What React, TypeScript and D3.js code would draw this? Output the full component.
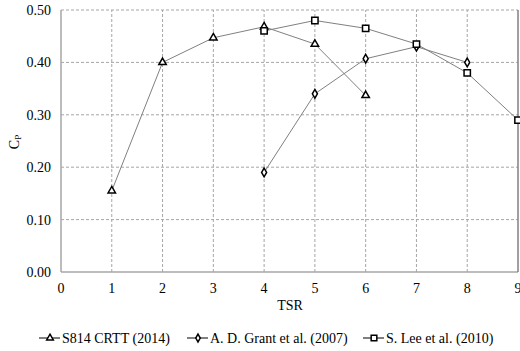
import React from 'react';
import * as d3 from 'd3';

const s814X = [1, 2, 3, 4, 5, 6];
const s814Y = [0.155, 0.4, 0.447, 0.468, 0.435, 0.337];
const grantX = [4, 5, 6, 7, 8];
const grantY = [0.19, 0.34, 0.407, 0.43, 0.4];
const leeX = [4, 5, 6, 7, 8, 9];
const leeY = [0.46, 0.48, 0.465, 0.435, 0.38, 0.29];
const xTicks = [0, 1, 2, 3, 4, 5, 6, 7, 8, 9];
const yTicks = [0, 0.1, 0.2, 0.3, 0.4, 0.5];
const seriesNames = ['S814 CRTT (2014)', 'A. D. Grant et al. (2007)', 'S. Lee et al. (2010)'];

const width = 520;
const height = 351;
const margin = { top: 10, right: 2, bottom: 79, left: 61 };
const font = 'Liberation Serif, Times New Roman, serif';

export default function App() {
  const x = d3.scaleLinear().domain([0, 9]).range([margin.left, width - margin.right]);
  const y = d3.scaleLinear().domain([0, 0.5]).range([height - margin.bottom, margin.top]);
  const line = d3.line<[number, number]>().x(d => x(d[0])).y(d => y(d[1]));

  const series = [
    { xs: s814X, ys: s814Y, sym: d3.symbolTriangle, size: 24 },
    { xs: grantX, ys: grantY, sym: d3.symbolDiamond, size: 22 },
    { xs: leeX, ys: leeY, sym: d3.symbolSquare, size: 40 },
  ];
  const legendX = [39, 187, 363];
  const textStyle = { fontFamily: font, fontSize: '14px' };

  return (
    <svg width={width} height={height} style={{ position: 'absolute', left: 0, top: 0 }}>
      {/* gridlines */}
      {yTicks.slice(1).map(t => (
        <line key={'h' + t} x1={x(0)} x2={x(9)} y1={y(t)} y2={y(t)}
          stroke="#a6a6a6" strokeDasharray="3,2" strokeWidth={1} />
      ))}
      {xTicks.slice(1, 9).map(t => (
        <line key={'v' + t} x1={x(t)} x2={x(t)} y1={y(0)} y2={y(0.5)}
          stroke="#a6a6a6" strokeDasharray="3,2" strokeWidth={1} />
      ))}
      {/* axes */}
      <line x1={x(0)} x2={x(0)} y1={y(0)} y2={y(0.5)} stroke="#a6a6a6" strokeWidth={1.5} />
      <line x1={x(0)} x2={x(9)} y1={y(0)} y2={y(0)} stroke="#a6a6a6" strokeWidth={1.5} />
      <line x1={x(9)} x2={x(9)} y1={y(0)} y2={y(0.5)} stroke="#808080" strokeWidth={1.5} />

      {/* tick labels */}
      {yTicks.map(t => (
        <text key={'yl' + t} x={margin.left - 10} y={y(t) + 5} textAnchor="end" style={textStyle}>
          {d3.format('.2f')(t)}
        </text>
      ))}
      {xTicks.map(t => (
        <text key={'xl' + t} x={x(t)} y={y(0) + 21} textAnchor="middle" style={textStyle}>{t}</text>
      ))}
      <text x={290} y={310} textAnchor="middle" style={textStyle}>TSR</text>
      <text transform="translate(19,142) rotate(-90)" textAnchor="middle" style={textStyle}>
        <tspan>C</tspan>
        <tspan dy={2} style={{ fontSize: '9px' }}>P</tspan>
      </text>

      {/* series lines */}
      {series.map((s, i) => (
        <path key={'l' + i} d={line(s.xs.map((v, j) => [v, s.ys[j]] as [number, number])) || ''}
          fill="none" stroke="#808080" strokeWidth={1} />
      ))}
      {/* markers */}
      {series.map((s, i) =>
        s.xs.map((v, j) => (
          <path key={'m' + i + '-' + j} d={d3.symbol().type(s.sym).size(s.size)() || ''}
            transform={`translate(${x(v)},${y(s.ys[j])})`}
            fill="white" stroke="black" strokeWidth={1.5} />
        ))
      )}

      {/* legend */}
      {series.map((s, i) => (
        <g key={'lg' + i} transform={`translate(${legendX[i]},338)`}>
          <line x1={0} x2={21} y1={0} y2={0} stroke="#000" strokeWidth={1} />
          <path d={d3.symbol().type(s.sym).size(s.size * 0.8)() || ''} transform="translate(11,0)"
            fill="white" stroke="black" strokeWidth={1.5} />
          <text x={23} y={5} style={textStyle}>{seriesNames[i]}</text>
        </g>
      ))}
    </svg>
  );
}
